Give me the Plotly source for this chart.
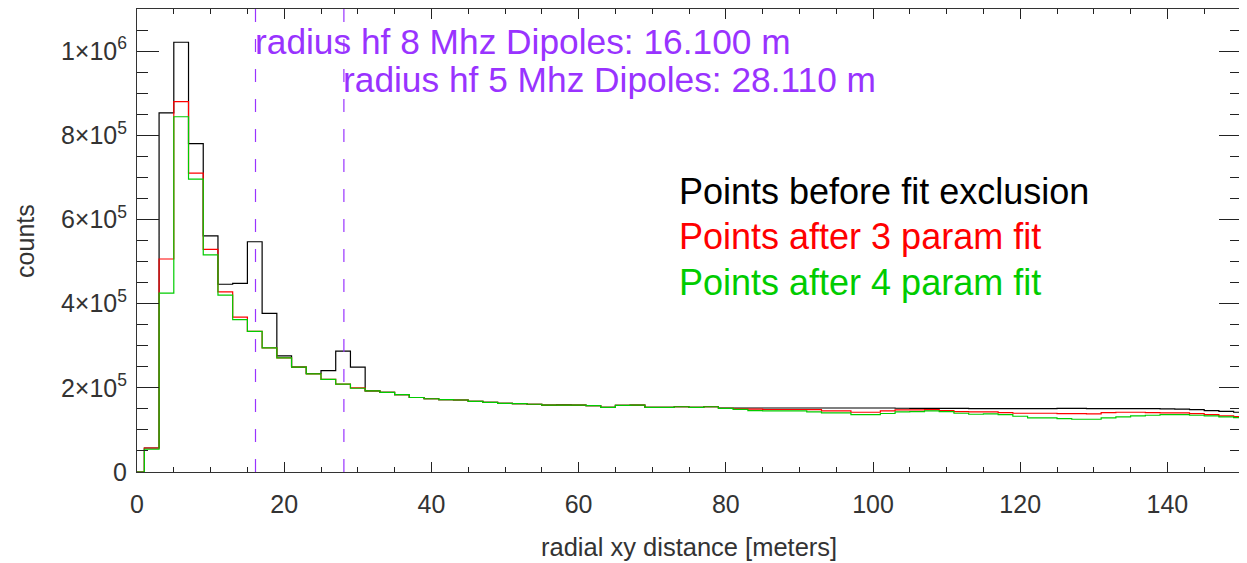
import plotly.graph_objects as go

bin_centers = list(range(0, 152, 2))

before_fit = [
    0, 57000, 853000, 1021000, 780000, 561000, 446000, 448000, 547000, 377000,
    276000, 249000, 234000, 241000, 287000, 249000, 192600, 189000, 184000, 177000,
    174000, 172000, 171000, 168000, 165600, 163000, 162500, 161000, 159000, 159500,
    159000, 157700, 153700, 158500, 158700, 153700, 153700, 155000, 153700, 155000,
    152000, 152000, 152000, 152000, 152000, 152000, 152000, 152000, 152000, 152000,
    152000, 152000, 151500, 151000, 151000, 151000, 151000, 150500, 150500, 150500,
    150500, 150500, 150500, 151000, 151000, 150500, 150500, 150500, 150500, 150500,
    150000, 149500, 148000, 146000, 144000, 142000,
]

after_3param = [
    0, 57000, 506000, 880000, 710000, 529000, 428000, 368000, 334000, 295000,
    271000, 249000, 233000, 220000, 209000, 200000, 192600, 189000, 184000, 177000,
    174000, 172000, 171000, 168000, 165600, 163000, 162500, 161000, 159000, 159000,
    159000, 157700, 153700, 158500, 158700, 153700, 153700, 155000, 153700, 155000,
    151000, 150000, 149500, 148500, 148500, 148500, 148000, 145000, 145000, 142000,
    142000, 145000, 147500, 147500, 148300, 145900, 143500, 142700, 142700, 141100,
    139600, 139600, 139600, 138800, 138800, 138000, 141100, 141900, 141900, 141100,
    140300, 140300, 138800, 136400, 133200, 131600,
]

after_4param = [
    0, 54000, 425000, 844000, 696000, 516000, 420000, 362000, 334000, 295000,
    271000, 249000, 233000, 220000, 209000, 199000, 192600, 189000, 184000, 177000,
    174000, 172000, 171000, 168000, 165600, 163000, 162500, 161000, 159000, 159000,
    159000, 157700, 153700, 158500, 158700, 153700, 153700, 155000, 153700, 155000,
    151000, 149000, 146000, 145000, 145000, 145000, 143000, 140500, 140500, 136500,
    136500, 139000, 143000, 143500, 145100, 143500, 139600, 137200, 138000, 136400,
    132400, 128500, 128500, 126900, 125300, 125300, 128500, 130900, 133200, 134800,
    136400, 136400, 134800, 133200, 130900, 129300,
]

series_names = ["Points before fit exclusion", "Points after 3 param fit", "Points after 4 param fit"]
series_colors = ["#000000", "#ff0000", "#00cc00"]

dipole_radii = [16.100, 28.110]
dipole_labels = ["radius hf 8 Mhz Dipoles: 16.100 m", "radius hf 5 Mhz Dipoles: 28.110 m"]

x_tick_vals = [0, 20, 40, 60, 80, 100, 120, 140]
y_tick_vals = [0, 200000, 400000, 600000, 800000, 1000000]
y_tick_text = ["0", "2×10<sup>5</sup>", "4×10<sup>5</sup>", "6×10<sup>5</sup>",
               "8×10<sup>5</sup>", "1×10<sup>6</sup>"]

FONT = "Liberation Sans, Arial, Helvetica, sans-serif"
PURPLE = "#9933ff"
TEXT_GRAY = "#333333"

fig = go.Figure()
for ys, name, col in zip([before_fit, after_3param, after_4param], series_names, series_colors):
    fig.add_trace(go.Scatter(
        x=bin_centers, y=ys, mode="lines", name=name,
        line=dict(color=col, width=1.2, shape="hvh"),
        showlegend=False,
    ))

for r in dipole_radii:
    fig.add_shape(type="line", xref="x", yref="paper", x0=r, x1=r, y0=0, y1=1,
                  line=dict(color=PURPLE, width=1.2, dash="13px,17px"), layer="above")

label_y = [1023000, 933000]
for r, lab, yy in zip(dipole_radii, dipole_labels, label_y):
    fig.add_annotation(x=r, y=yy, xref="x", yref="y", text=lab, showarrow=False,
                       xanchor="left", yanchor="middle", xshift=-3,
                       font=dict(family=FONT, size=35.3, color=PURPLE))

legend_y = [0.605, 0.508, 0.41]
for name, col, yy in zip(series_names, series_colors, legend_y):
    fig.add_annotation(x=0.489, y=yy, xref="paper", yref="paper", text=name, showarrow=False,
                       xanchor="left", yanchor="middle",
                       font=dict(family=FONT, size=36, color=col))

# axis titles
fig.add_annotation(x=0.5, y=-0.162, xref="paper", yref="paper", text="radial xy distance [meters]",
                   showarrow=False, xanchor="center", yanchor="middle",
                   font=dict(family=FONT, size=25.5, color=TEXT_GRAY))
fig.add_annotation(x=-0.102, y=0.5, xref="paper", yref="paper", text="counts", textangle=-90,
                   showarrow=False, xanchor="center", yanchor="middle",
                   font=dict(family=FONT, size=25, color=TEXT_GRAY))

axis_common = dict(
    showline=True, linecolor="#333333", linewidth=1, mirror="allticks",
    ticks="inside", tickcolor="#222222", showgrid=False, zeroline=False, automargin=False,
    tickfont=dict(family=FONT, size=25, color=TEXT_GRAY),
)

fig.update_xaxes(
    range=[0, 150], tickvals=x_tick_vals, ticklen=10, ticklabelstandoff=10,
    minor=dict(dtick=5, tick0=0, ticks="inside", ticklen=5, tickcolor="#222222", showgrid=False),
    **axis_common,
)
fig.update_yaxes(
    range=[0, 1100000], tickvals=y_tick_vals, ticktext=y_tick_text, ticklen=22, ticklabelstandoff=4,
    minor=dict(dtick=50000, tick0=0, ticks="inside", ticklen=11, tickcolor="#222222", showgrid=False),
    **axis_common,
)

fig.update_layout(
    width=1239, height=555,
    margin=dict(l=129, r=6, t=1, b=91, autoexpand=False),
    paper_bgcolor="white", plot_bgcolor="white",
    font=dict(family=FONT),
)

fig.write_html("out.html")
